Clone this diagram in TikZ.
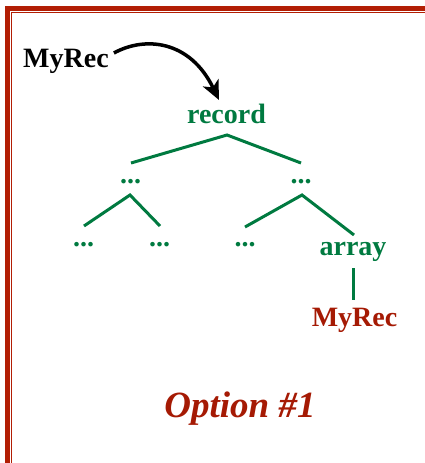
\documentclass[tikz,border=0pt]{standalone}
\usepackage{fontspec}
\setmainfont{Liberation Serif}
\usetikzlibrary{arrows.meta}
\definecolor{framered}{RGB}{178,30,4}
\definecolor{textred}{RGB}{165,26,4}
\definecolor{treegreen}{RGB}{0,122,64}
\tikzset{
  lbl/.style={inner sep=0pt, anchor=base, font=\fontsize{28}{30}\selectfont\bfseries},
  tnode/.style={lbl, text=treegreen},
  edge/.style={draw=treegreen, line width=3pt},
}
\begin{document}
\begin{tikzpicture}[x=1pt,y=-1pt]
  \useasboundingbox (0,0) rectangle (425,463);
  \clip (0,0) rectangle (425,463);
  % double frame along the top and left
  \draw[framered, line width=5pt] (7.5,480) -- (7.5,8.5) -- (440,8.5);
  \draw[framered, line width=1.5pt] (11.5,480) -- (11.5,12.6) -- (440,12.6);

  % source name and the tree of the type
  \node[lbl, anchor=base west] (src) at (23,67) {MyRec};
  \node[tnode] (rec) at (226.5,123) {record};
  \node[tnode] (l)  at (130.5,183) {...};
  \node[tnode] (r)  at (301,183) {...};
  \node[tnode] (ll) at (83.5,246) {...};
  \node[tnode] (lr) at (159.5,246) {...};
  \node[tnode] (rl) at (245,246) {...};
  \node[tnode] (arr) at (353,255) {array};
  \node[lbl, text=textred] (leaf) at (354.5,326) {MyRec};

  % branches
  \draw[edge] ([xshift=0.5pt,yshift=20pt]l.base) -- ([xshift=0.5pt,yshift=-12pt]rec.base)
              -- ([yshift=20pt]r.base);
  \draw[edge] ([xshift=0.5pt,yshift=20pt]ll.base) -- ([xshift=-0.5pt,yshift=-12pt]l.base)
              -- ([xshift=0.5pt,yshift=20pt]lr.base);
  \draw[edge] ([yshift=19pt]rl.base) -- ([xshift=1pt,yshift=-12pt]r.base)
              -- ([xshift=1pt,yshift=20pt]arr.base);
  \draw[edge] ([yshift=-13pt]arr.base) -- ([xshift=-1.5pt,yshift=26pt]leaf.base);

  % curved pointer from the name to the record
  \draw[line width=3.5pt, -{Stealth[length=19pt,width=17pt,inset=5pt]}]
    ([xshift=5pt,yshift=14pt]src.base east)
    .. controls (145,36) and (190,40) .. ([xshift=-7.5pt,yshift=23pt]rec.base);

  % caption
  \node[inner sep=0pt, anchor=base, text=textred,
        font=\fontsize{37}{40}\selectfont\bfseries\itshape] (cap) at (240,417) {Option \#1};
\end{tikzpicture}
\end{document}
